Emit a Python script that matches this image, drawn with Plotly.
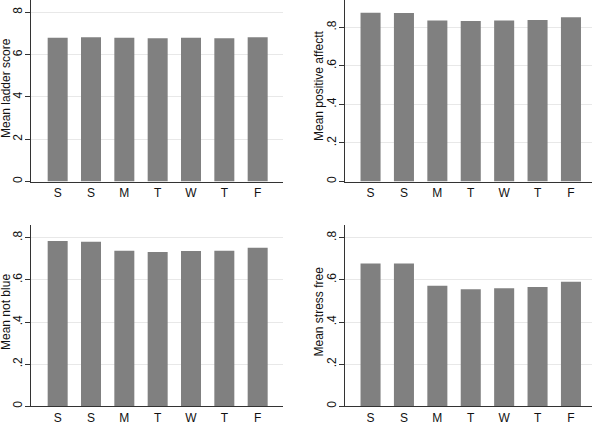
import plotly.graph_objects as go

days = ["S", "S", "M", "T", "W", "T", "F"]
ladder_score = [6.80, 6.82, 6.80, 6.77, 6.80, 6.77, 6.82]
positive_affect = [0.876, 0.874, 0.836, 0.833, 0.836, 0.838, 0.852]
not_blue = [0.784, 0.781, 0.738, 0.732, 0.737, 0.738, 0.753]
stress_free = [0.678, 0.678, 0.572, 0.556, 0.560, 0.566, 0.591]

titles = ["Mean ladder score", "Mean positive affectt", "Mean not blue", "Mean stress free"]
series = [ladder_score, positive_affect, not_blue, stress_free]
yticks = [
    ([0, 2, 4, 6, 8], ["0", "2", "4", "6", "8"]),
    ([0, 0.2, 0.4, 0.6, 0.8], ["0", ".2", ".4", ".6", ".8"]),
    ([0, 0.2, 0.4, 0.6, 0.8], ["0", ".2", ".4", ".6", ".8"]),
    ([0, 0.2, 0.4, 0.6, 0.8], ["0", ".2", ".4", ".6", ".8"]),
]
yranges = [[0, 8.58], [0, 0.942], [0, 0.859], [0, 0.859]]

W, H = 600, 424
xdoms = [[31 / W, 283 / W], [344.5 / W, 592 / W], [31 / W, 283 / W], [344.5 / W, 592 / W]]
ydoms = [[1 - 181.5 / H, 1.0], [1 - 181.5 / H, 1.0],
         [1 - 406.3 / H, 1 - 225.3 / H], [1 - 406.3 / H, 1 - 225.3 / H]]
xranges = [[-0.8, 6.76], [-0.78, 6.63], [-0.8, 6.76], [-0.78, 6.63]]
title_x = [6 / W, 319 / W, 6 / W, 318.5 / W]
title_y = [1 - 88 / H, 1 - 86 / H, 1 - 312 / H, 1 - 312 / H]

fig = go.Figure()
font = dict(family="Liberation Sans, Arial, sans-serif", size=12, color="#111111")
layout = dict(width=W, height=H, margin=dict(l=0, r=0, t=0, b=0, autoexpand=False),
              paper_bgcolor="white", plot_bgcolor="white", showlegend=False,
              font=font, bargap=0.4)

xidx = list(range(len(days)))
annotations = []
for i in range(4):
    n = "" if i == 0 else str(i + 1)
    fig.add_trace(go.Bar(x=xidx, y=series[i], xaxis="x" + n, yaxis="y" + n,
                         marker=dict(color="#808080", line=dict(width=0)),
                         width=0.6))
    layout["xaxis" + n] = dict(
        domain=xdoms[i], anchor="y" + n, range=xranges[i],
        tickvals=xidx, ticktext=days, ticks="", showgrid=False,
        showline=True, linecolor="#333333", linewidth=1, zeroline=False,
        tickfont=font, fixedrange=True, automargin=False,
    )
    layout["yaxis" + n] = dict(
        domain=ydoms[i], anchor="x" + n, range=yranges[i],
        tickvals=yticks[i][0], ticktext=yticks[i][1], tickangle=-90,
        ticks="outside", ticklen=5, tickcolor="#333333",
        ticklabelstandoff=-2,
        showline=True, linecolor="#333333", linewidth=1, zeroline=False,
        showgrid=True, gridcolor="#e8e8e8", gridwidth=1,
        tickfont=font, automargin=False,
    )
    annotations.append(dict(text=titles[i], xref="paper", yref="paper",
                            x=title_x[i], y=title_y[i], xanchor="center",
                            yanchor="middle", textangle=-90, showarrow=False,
                            font=font))

layout["annotations"] = annotations
fig.update_layout(**layout)
fig.write_html("out.html", config={"displayModeBar": False},
               post_script="document.body.style.margin='0';document.body.style.overflow='hidden';")
